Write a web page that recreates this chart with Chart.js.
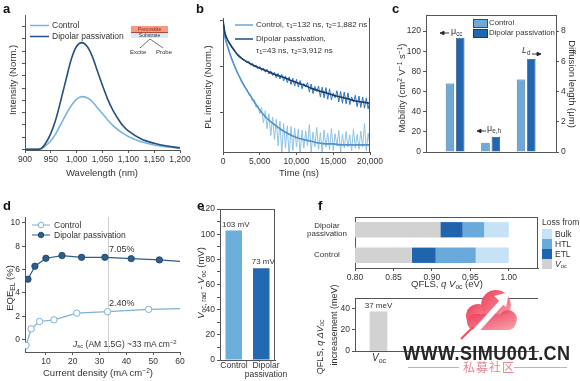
<!DOCTYPE html>
<html>
<head>
<meta charset="utf-8">
<title>Dipolar passivation figure</title>
<script src="https://cdn.jsdelivr.net/npm/chart.js"></script>
<style>
  body { margin:0; width:580px; height:381px; position:relative; overflow:hidden; background:#fff;
         font-family: Arial, "Liberation Sans", Helvetica, sans-serif; color:#333; }
  canvas { position:absolute; }
  .t { position:absolute; line-height:1; white-space:nowrap; font-size:8.5px; }
  .lbl { position:absolute; font-weight:bold; font-size:13px; color:#111; line-height:1; }
  .yt { position:absolute; line-height:1; white-space:nowrap; font-size:9.5px; transform:translate(-50%,-50%) rotate(-90deg); }
  .yt2 { position:absolute; line-height:1; white-space:nowrap; font-size:9.5px; transform:translate(-50%,-50%) rotate(90deg); }
  .xt { position:absolute; line-height:1; white-space:nowrap; font-size:9.5px; transform:translateX(-50%); }
  .box { position:absolute; }
  sub { font-size:70%; vertical-align:-0.25em; line-height:0; }
  sup { font-size:70%; vertical-align:0.45em; line-height:0; }
  #overlay { position:absolute; left:0; top:0; }
  #wm { position:absolute; left:403px; top:342px; font-weight:bold; font-size:21px; color:#262626; line-height:1;
        transform-origin:left top; transform:scaleX(0.86); letter-spacing:0.5px; white-space:nowrap; }
  #wmcn { position:absolute; left:463px; top:361px; font-size:12px; color:#e48797; line-height:1;
          font-family:"Noto Sans CJK SC", sans-serif; letter-spacing:1px; }
</style>
</head>
<body>
<canvas id="chartA" width="196" height="176" style="left:0;top:0"></canvas>
<canvas id="chartB" width="200" height="176" style="left:195px;top:0"></canvas>
<canvas id="chartC" width="190" height="176" style="left:390px;top:0"></canvas>
<canvas id="chartD" width="196" height="191" style="left:0;top:190px"></canvas>
<canvas id="chartE" width="100" height="191" style="left:195px;top:190px"></canvas>
<canvas id="chartF1" width="250" height="87" style="left:300px;top:205px"></canvas>
<canvas id="chartF2" width="240" height="91" style="left:310px;top:290px"></canvas>

<!-- panel a -->
<div class="lbl" style="left:3px;top:2px">a</div>
<div class="t" style="left:52px;top:21px">Control</div>
<div class="t" style="left:52px;top:32px">Dipolar passivation</div>
<div class="box" style="left:131px;top:26px;width:37px;height:6px;background:#f59a80;border-bottom:1px solid #b04838"></div>
<div class="t" style="left:131px;top:27px;width:37px;text-align:center;font-size:5px;color:#8b2a18">Perovskite</div>
<div class="box" style="left:131px;top:33px;width:37px;height:5px;background:#dce9f5"></div>
<div class="t" style="left:131px;top:33px;width:37px;text-align:center;font-size:5px;color:#334">Substrate</div>
<div class="t" style="left:130px;top:49px;font-size:6px">Excite</div>
<div class="t" style="left:156px;top:49px;font-size:6px">Probe</div>
<div class="xt" style="left:102px;top:168px">Wavelength (nm)</div>
<div class="yt" style="left:13px;top:80px">Intensity (Norm.)</div>

<!-- panel b -->
<div class="lbl" style="left:196px;top:2px">b</div>
<div class="t" style="left:256px;top:21px;font-size:8px">Control, τ<sub>1</sub>=132 ns, τ<sub>2</sub>=1,882 ns</div>
<div class="t" style="left:256px;top:35px;font-size:8px">Dipolar passivation,</div>
<div class="t" style="left:256px;top:47px;font-size:8px">τ<sub>1</sub>=43 ns, τ<sub>2</sub>=3,912 ns</div>
<div class="xt" style="left:299px;top:168px">Time (ns)</div>
<div class="yt" style="left:208px;top:87px">PL intensity (Norm.)</div>

<!-- panel c -->
<div class="lbl" style="left:392px;top:2px">c</div>
<div class="box" style="left:473px;top:19px;width:13px;height:7px;background:#6ea9d8;border:0.5px solid #2b4f78"></div>
<div class="box" style="left:473px;top:29px;width:13px;height:7px;background:#2166b0;border:0.5px solid #1b3d66"></div>
<div class="t" style="left:489px;top:19px;font-size:7.8px">Control</div>
<div class="t" style="left:489px;top:29px;font-size:7.8px">Dipolar passivation</div>
<div class="t" style="left:451px;top:27px;font-size:9px">μ<sub>cc</sub></div>
<div class="t" style="left:487px;top:124px;font-size:9px">μ<sub>e,h</sub></div>
<div class="t" style="left:522px;top:46px;font-size:9px"><i>L</i><sub>d</sub></div>
<div class="yt" style="left:402px;top:88px">Mobility (cm<sup>2</sup> V<sup>−1</sup> s<sup>−1</sup>)</div>
<div class="yt2" style="left:572px;top:84px">Diffusion length (μm)</div>

<!-- panel d -->
<div class="lbl" style="left:3px;top:199px">d</div>
<div class="t" style="left:54px;top:221px">Control</div>
<div class="t" style="left:54px;top:231px">Dipolar passivation</div>
<div class="t" style="left:109px;top:245px;font-size:9px">7.05%</div>
<div class="t" style="left:109px;top:299px;font-size:9px">2.40%</div>
<div class="t" style="left:73px;top:340px;font-size:8.5px"><i>J</i><sub>sc</sub> (AM 1.5G) ~33 mA cm<sup>−2</sup></div>
<div class="xt" style="left:98px;top:368px">Current density (mA cm<sup>−2</sup>)</div>
<div class="yt" style="left:10px;top:288px">EQE<sub>EL</sub> (%)</div>

<!-- panel e -->
<div class="lbl" style="left:197px;top:199px">e</div>
<div class="yt" style="left:201px;top:283px"><i>V</i><sub>oc, rad</sub> - <i>V</i><sub>oc</sub> (mV)</div>
<div class="xt" style="left:234px;top:361px;font-size:8.5px">Control</div>
<div class="xt" style="left:266px;top:361px;font-size:8.5px">Dipolar</div>
<div class="xt" style="left:266px;top:370px;font-size:8.5px">passivation</div>

<!-- panel f -->
<div class="lbl" style="left:318px;top:199px">f</div>
<div class="t" style="left:542px;top:218px">Loss from</div>
<div class="box" style="left:542px;top:229px;width:10px;height:10px;background:#c6e2f7"></div>
<div class="box" style="left:542px;top:239px;width:10px;height:10px;background:#6aaadb"></div>
<div class="box" style="left:542px;top:249px;width:10px;height:10px;background:#1f64ad"></div>
<div class="box" style="left:542px;top:259px;width:10px;height:10px;background:#d2d2d2"></div>
<div class="t" style="left:555px;top:230px">Bulk</div>
<div class="t" style="left:555px;top:240px">HTL</div>
<div class="t" style="left:555px;top:250px">ETL</div>
<div class="t" style="left:555px;top:260px"><i>V</i><sub>oc</sub></div>
<div class="xt" style="left:447px;top:279px">QFLS, <i>q V</i><sub>oc</sub> (eV)</div>
<div class="xt" style="left:379px;top:353px;font-size:10px"><i>V</i><sub>oc</sub></div>
<div class="yt" style="left:320px;top:347px;font-size:9px">QFLS, <i>q ΔV</i><sub>oc</sub></div>
<div class="yt" style="left:334px;top:325px;font-size:9px">increasement (meV)</div>

<svg id="overlay" width="580" height="381">
  <line x1="30" y1="25.5" x2="49" y2="25.5" stroke="#78b4de" stroke-width="1.5"/>
  <line x1="30" y1="36.5" x2="49" y2="36.5" stroke="#24507e" stroke-width="1.5"/>
  <line x1="150" y1="39" x2="140" y2="48" stroke="#333" stroke-width="0.7"/>
  <line x1="150" y1="39" x2="163" y2="48" stroke="#333" stroke-width="0.7"/>
  <line x1="235" y1="25" x2="253" y2="25" stroke="#6aa9d8" stroke-width="1.5"/>
  <line x1="235" y1="39" x2="253" y2="39" stroke="#1e4d80" stroke-width="1.5"/>
  <line x1="32" y1="225" x2="50" y2="225" stroke="#7fb0d2" stroke-width="1"/>
  <circle cx="41" cy="225" r="2.8" fill="#fff" stroke="#7fb0d2" stroke-width="1"/>
  <line x1="32" y1="235" x2="50" y2="235" stroke="#2e5e8c" stroke-width="1"/>
  <circle cx="41" cy="235" r="2.8" fill="#2e5e8c" stroke="#1d4266" stroke-width="0.8"/>
  <g stroke="#222" stroke-width="0.9" fill="#222">
    <line x1="449" y1="33" x2="443" y2="33"/><polygon points="440,33 444,31.3 444,34.7"/>
    <line x1="486" y1="131" x2="480" y2="131"/><polygon points="477,131 481,129.3 481,132.7"/>
    <line x1="532" y1="54" x2="538" y2="54"/><polygon points="541,54 537,52.3 537,55.7"/>
  </g>
  <defs>
    <linearGradient id="cg" x1="0" y1="0" x2="1" y2="1">
      <stop offset="0" stop-color="#ee3f58"/><stop offset="1" stop-color="#f7a2ad"/>
    </linearGradient>
  </defs>
  <g fill="url(#cg)">
    <circle cx="478" cy="316" r="12"/>
    <circle cx="496" cy="305" r="15"/>
    <circle cx="508" cy="319" r="9"/>
    <rect x="467" y="314" width="49" height="16" rx="8"/>
  </g>
  <polygon points="470,333 500,300 504,304 474,337" fill="#fff"/>
  <polygon points="494,296 509,292 506,307" fill="#fff"/>
  <line x1="461" y1="339" x2="473" y2="327" stroke="#ee4a60" stroke-width="2"/>
  <line x1="408" y1="367.5" x2="459" y2="367.5" stroke="#e8a0aa" stroke-width="1"/>
  <line x1="514" y1="367.5" x2="567" y2="367.5" stroke="#e8a0aa" stroke-width="1"/>
</svg>
<div id="wm">WWW.SIMU001.CN</div>
<div id="wmcn">私募社区</div>

<script>
// ---------- data ----------
// a: steady-state PL spectra
const wavelength = [900, 920, 930, 940, 950, 960, 970, 980, 990, 1000, 1010, 1020, 1030, 1040, 1050, 1060, 1070, 1080, 1090, 1100, 1125, 1150, 1175, 1200];
const specControl = [0, 0, 0.003, 0.03, 0.07, 0.13, 0.21, 0.29, 0.36, 0.41, 0.43, 0.42, 0.39, 0.34, 0.29, 0.24, 0.195, 0.16, 0.13, 0.105, 0.062, 0.036, 0.02, 0.012];
const specDipolar = [0, 0, 0.005, 0.05, 0.13, 0.25, 0.41, 0.58, 0.74, 0.84, 0.87, 0.84, 0.76, 0.64, 0.52, 0.41, 0.32, 0.25, 0.19, 0.15, 0.085, 0.05, 0.027, 0.012];
const waveTicks = [900, 950, 1000, 1050, 1100, 1150, 1200];
const intensityTicks = [0, 0.1, 0.2, 0.3, 0.4, 0.5, 0.6, 0.7, 0.8, 0.9, 1.0];

// b: TRPL decays (raw) and bi-exponential fits
const decayTime = [0,250,500,750,1000,1250,1500,1750,2000,2250,2500,2750,3000,3250,3500,3750,4000,4250,4500,4750,5000,5250,5500,5750,6000,6250,6500,6750,7000,7250,7500,7750,8000,8250,8500,8750,9000,9250,9500,9750,10000,10250,10500,10750,11000,11250,11500,11750,12000,12250,12500,12750,13000,13250,13500,13750,14000,14250,14500,14750,15000,15250,15500,15750,16000,16250,16500,16750,17000,17250,17500,17750,18000,18250,18500,18750,19000,19250,19500,19750,20000];
const decayControl = [1.0,0.46,0.315,0.245,0.176,0.145,0.106,0.092,0.069,0.063,0.047,0.044,0.034,0.033,0.025,0.025,0.018,0.019,0.013,0.0145,0.0095,0.013,0.0060,0.011,0.0045,0.0095,0.0032,0.0080,0.0026,0.0072,0.0019,0.0065,0.0013,0.0058,0.0017,0.0052,0.0011,0.0050,0.0015,0.0046,0.0018,0.0044,0.0012,0.0042,0.0017,0.0040,0.0019,0.0055,0.0014,0.0038,0.0018,0.0048,0.0016,0.0037,0.0013,0.0042,0.0018,0.0036,0.0016,0.0045,0.0015,0.0035,0.0019,0.0041,0.0014,0.0034,0.0017,0.0039,0.0018,0.0033,0.0015,0.0044,0.0017,0.0034,0.0016,0.0040,0.0018,0.0058,0.0015,0.0036,0.0019];
const decayDipolar = [1.0,0.56,0.43,0.345,0.305,0.255,0.235,0.195,0.185,0.162,0.156,0.139,0.138,0.121,0.130,0.108,0.117,0.098,0.108,0.090,0.100,0.082,0.093,0.076,0.088,0.069,0.081,0.064,0.076,0.057,0.071,0.054,0.068,0.049,0.063,0.045,0.060,0.041,0.056,0.038,0.053,0.036,0.050,0.033,0.043,0.036,0.045,0.028,0.042,0.026,0.037,0.029,0.038,0.022,0.036,0.021,0.035,0.0195,0.033,0.019,0.027,0.021,0.030,0.017,0.029,0.016,0.028,0.0155,0.027,0.015,0.022,0.017,0.024,0.0135,0.023,0.013,0.022,0.0125,0.021,0.012,0.020];
const fitTime = [0,250,500,1000,1500,2000,2500,3000,4000,5000,6000,7000,8000,9000,10000,11000,12000,13000,14000,15000,16000,17000,18000,19000,20000];
const fitControl = [1.0,0.45,0.32,0.18,0.11,0.072,0.05,0.036,0.020,0.0115,0.0075,0.0055,0.0042,0.0034,0.0029,0.0026,0.0024,0.0022,0.0021,0.0021,0.0020,0.0020,0.0020,0.0020,0.0020];
const fitDipolar = [1.0,0.55,0.42,0.30,0.23,0.18,0.153,0.135,0.11,0.093,0.080,0.068,0.060,0.052,0.045,0.040,0.034,0.030,0.027,0.024,0.022,0.020,0.018,0.017,0.016];
const timeTicks = [0, 5000, 10000, 15000, 20000];
const decadeTicks = [0.01, 0.1, 1];

// c: mobilities (cm2/Vs) and diffusion length (um)
const mobilityControl = [68, 9.3];      // mu_cc, mu_e,h
const mobilityDipolar = [113.5, 15];
const diffusionControl = [4.8];          // L_d
const diffusionDipolar = [6.15];
const mobilityTicks = [0, 20, 40, 60, 80, 100, 120];
const diffusionTicks = [0, 2, 4, 6, 8];

// d: EQE_EL vs current density
const ctrlJ = [2.6, 4.5, 7.6, 13, 21.5, 33, 48.3, 60];
const ctrlEqe = [-0.48, 0.93, 1.56, 1.7, 2.27, 2.4, 2.6, 2.66];
const dipJ = [3.3, 5.9, 10, 16, 23.3, 32, 41.8, 52.3, 60];
const dipEqe = [5.18, 6.29, 6.97, 7.2, 7.05, 7.05, 6.94, 6.83, 6.71];
const jscValue = 33;
const currentTicks = [10, 20, 30, 40, 50, 60];
const eqeTicks = [0, 2, 4, 6, 8, 10];

// e: non-radiative Voc loss
const sampleLabels = ['Control', 'Dipolar passivation'];
const vocDeficit = [103, 73];
const deficitTicks = [0, 10, 20, 30, 40, 50, 60, 70, 80, 90, 100, 110, 120];

// f: QFLS / Voc loss breakdown
const qflsLabels = [['Dipolar', 'passivation'], 'Control'];
const vocLevel = [0.911, 0.874];
const etlLoss = [0.029, 0.031];
const htlLoss = [0.028, 0.052];
const bulkLoss = [0.032, 0.043];
const qflsTicks = [0.80, 0.85, 0.90, 0.95, 1.00];
const qflsGain = [37];
const gainTicks = [0, 20, 40];

// ---------- styling ----------
const AXIS = '#555';
const TEXT = '#333';
Chart.defaults.font.family = 'Arial, "Liberation Sans", Helvetica, sans-serif';
Chart.defaults.font.size = 8.5;
Chart.defaults.color = TEXT;
Chart.defaults.animation = false;
Chart.defaults.responsive = false;
Chart.defaults.maintainAspectRatio = false;
Chart.defaults.plugins.legend.display = false;
Chart.defaults.plugins.tooltip.enabled = false;
Chart.defaults.elements.point.radius = 0;

function ticksFrom(list) { return scale => { scale.ticks = list.map(v => ({ value: v })); }; }
function widthOf(w) { return scale => { scale.width = w; }; }
function heightOf(h) { return scale => { scale.height = h; }; }
function axis(o) {
    const a = {
        offset: false,
        border: { color: AXIS, width: 1 },
        grid: { drawOnChartArea: false, drawTicks: true, tickLength: 3, color: AXIS },
        ticks: { color: TEXT, padding: 2, font: { size: 8.5 }, maxRotation: 0, minRotation: 0, autoSkip: false }
    };
    const t = Object.assign(a.ticks, o.ticks || {});
    return Object.assign(a, o, { ticks: t });
}
function pts(xs, ys) { return xs.map((x, i) => ({ x: x, y: ys[i] })); }

// box lines on top / right of plot area
const framePlugin = {
    id: 'frame',
    afterDraw(chart, args, opts) {
        if (!opts || !opts.sides) return;
        const a = chart.chartArea, ctx = chart.ctx;
        ctx.save();
        ctx.strokeStyle = AXIS;
        ctx.lineWidth = 1;
        ctx.beginPath();
        if (opts.sides.includes('top')) { ctx.moveTo(a.left, a.top + 0.5); ctx.lineTo(a.right, a.top + 0.5); }
        if (opts.sides.includes('right')) { ctx.moveTo(a.right - 0.5, a.top); ctx.lineTo(a.right - 0.5, a.bottom); }
        ctx.stroke();
        ctx.restore();
    }
};
// value text over bars
const valueLabels = {
    id: 'valueLabels',
    afterDatasetsDraw(chart, args, opts) {
        if (!opts || !opts.unit) return;
        const ctx = chart.ctx;
        ctx.save();
        ctx.font = '8px Arial, "Liberation Sans", sans-serif';
        ctx.fillStyle = TEXT;
        ctx.textAlign = 'center';
        ctx.textBaseline = 'bottom';
        chart.getDatasetMeta(0).data.forEach((bar, i) => {
            const v = chart.data.datasets[0].data[i];
            ctx.fillText((typeof v === 'object' ? v.y : v) + ' ' + opts.unit, bar.x + (opts.dx || 0), bar.y - 2);
        });
        ctx.restore();
    }
};
// vertical marker at Jsc
const jscLine = {
    id: 'jscLine',
    beforeDatasetsDraw(chart, args, opts) {
        if (!opts || opts.value == null) return;
        const a = chart.chartArea, ctx = chart.ctx;
        const x = Math.round(chart.scales.x.getPixelForValue(opts.value)) + 0.5;
        ctx.save();
        ctx.strokeStyle = '#d0d0d0';
        ctx.lineWidth = 1;
        ctx.beginPath(); ctx.moveTo(x, a.top); ctx.lineTo(x, a.bottom); ctx.stroke();
        ctx.restore();
    }
};
Chart.register(framePlugin, valueLabels, jscLine);

// ---------- a ----------
new Chart(document.getElementById('chartA'), {
    type: 'line',
    data: { datasets: [
        { data: pts(wavelength, specDipolar), borderColor: '#24507e', borderWidth: 1.6, cubicInterpolationMode: 'monotone' },
        { data: pts(wavelength, specControl), borderColor: '#78b4de', borderWidth: 1.6, cubicInterpolationMode: 'monotone' }
    ] },
    options: {
        layout: { padding: { top: 15, right: 16, left: 0, bottom: 0 } },
        scales: {
            x: axis({ type: 'linear', min: 900, max: 1200, afterBuildTicks: ticksFrom(waveTicks), afterFit: heightOf(26) }),
            y: axis({ min: -0.005, max: 1.095, afterBuildTicks: ticksFrom(intensityTicks), afterFit: widthOf(25), ticks: { display: false } })
        }
    }
});

// ---------- b ----------
new Chart(document.getElementById('chartB'), {
    type: 'line',
    data: { datasets: [
        { data: pts(fitTime, fitDipolar), borderColor: '#173a66', borderWidth: 1.6, cubicInterpolationMode: 'monotone' },
        { data: pts(decayTime, decayDipolar), borderColor: '#2f74bf', borderWidth: 1 },
        { data: pts(fitTime, fitControl), borderColor: '#4f92cc', borderWidth: 1.6, cubicInterpolationMode: 'monotone' },
        { data: pts(decayTime, decayControl), borderColor: '#8ec2e6', borderWidth: 1 }
    ] },
    options: {
        layout: { padding: { top: 18, right: 25, left: 0, bottom: 0 } },
        scales: {
            x: axis({ type: 'linear', min: 0, max: 20000, afterBuildTicks: ticksFrom(timeTicks), afterFit: heightOf(24) }),
            y: axis({ type: 'logarithmic', min: 0.0014, max: 1.14, afterBuildTicks: ticksFrom(decadeTicks), afterFit: widthOf(28), ticks: { display: false } })
        },
        plugins: { frame: { sides: ['right'] } }
    }
});

// ---------- c ----------
const mobilityMax = 136;
const diffusionMax = mobilityMax * 8 / 120;
const groupPos = [1, 2, 3];
new Chart(document.getElementById('chartC'), {
    type: 'bar',
    data: { datasets: [
        { data: pts(groupPos.slice(0, 2), mobilityControl), yAxisID: 'y', stack: 'ctrl', backgroundColor: '#6ea9d8' },
        { data: pts(groupPos.slice(0, 2), mobilityDipolar), yAxisID: 'y', stack: 'dip', backgroundColor: '#2166b0' },
        { data: pts(groupPos.slice(2), diffusionControl), yAxisID: 'y2', stack: 'ctrl', backgroundColor: '#6ea9d8' },
        { data: pts(groupPos.slice(2), diffusionDipolar), yAxisID: 'y2', stack: 'dip', backgroundColor: '#2166b0' }
    ] },
    options: {
        datasets: { bar: { categoryPercentage: 0.58, barPercentage: 0.82, borderWidth: 0.8, borderColor: '#2b4f78' } },
        layout: { padding: { top: 15, right: 0, left: 0, bottom: 0 } },
        scales: {
            x: axis({ type: 'linear', min: 0.18, max: 3.84, grid: { display: false }, ticks: { display: false }, afterBuildTicks: ticksFrom(groupPos), afterFit: heightOf(24) }),
            y: axis({ position: 'left', min: 0, max: mobilityMax, afterBuildTicks: ticksFrom(mobilityTicks), afterFit: widthOf(36) }),
            y2: axis({ position: 'right', min: 0, max: diffusionMax, afterBuildTicks: ticksFrom(diffusionTicks), afterFit: widthOf(24) })
        },
        plugins: { frame: { sides: ['top'] } }
    }
});

// ---------- d ----------
const lastOf = arr => ctx => (ctx.dataIndex < arr.length - 1 ? 3.2 : 0);
new Chart(document.getElementById('chartD'), {
    type: 'line',
    data: { datasets: [
        { data: pts(dipJ, dipEqe), borderColor: '#2e5e8c', borderWidth: 1.2, pointRadius: lastOf(dipJ),
          pointBackgroundColor: '#2e5e8c', pointBorderColor: '#1d4266', pointBorderWidth: 0.8 },
        { data: pts(ctrlJ, ctrlEqe), borderColor: '#7fb0d2', borderWidth: 1.2, pointRadius: lastOf(ctrlJ),
          pointBackgroundColor: '#fff', pointBorderColor: '#7fb0d2', pointBorderWidth: 1 }
    ] },
    options: {
        layout: { padding: { top: 27, right: 16, left: 0, bottom: 0 } },
        scales: {
            x: axis({ type: 'linear', min: 2.2, max: 60, afterBuildTicks: ticksFrom(currentTicks), afterFit: heightOf(29) }),
            y: axis({ min: -1.05, max: 10.5, afterBuildTicks: ticksFrom(eqeTicks), afterFit: widthOf(25) })
        },
        plugins: { jscLine: { value: jscValue } }
    }
});

// ---------- e ----------
new Chart(document.getElementById('chartE'), {
    type: 'bar',
    data: { labels: sampleLabels, datasets: [
        { data: vocDeficit, backgroundColor: ['#6baed9', '#2269b1'], barPercentage: 0.6, categoryPercentage: 1 }
    ] },
    options: {
        layout: { padding: { top: 19, right: 20, left: 0, bottom: 0 } },
        scales: {
            x: axis({ offset: true, grid: { display: false }, ticks: { display: false }, afterFit: heightOf(21) }),
            y: axis({ min: 0, max: 120, afterBuildTicks: ticksFrom(deficitTicks), afterFit: widthOf(25),
                      ticks: { callback: v => (v % 20 === 0 ? v : '') } })
        },
        plugins: { frame: { sides: ['top', 'right'] }, valueLabels: { unit: 'mV', dx: 2 } }
    }
});

// ---------- f (top) ----------
new Chart(document.getElementById('chartF1'), {
    type: 'bar',
    data: { labels: qflsLabels, datasets: [
        { label: 'Voc', data: vocLevel, backgroundColor: '#d2d2d2' },
        { label: 'ETL', data: etlLoss, backgroundColor: '#1f64ad' },
        { label: 'HTL', data: htlLoss, backgroundColor: '#6aaadb' },
        { label: 'Bulk', data: bulkLoss, backgroundColor: '#c6e2f7' }
    ] },
    options: {
        indexAxis: 'y',
        datasets: { bar: { barPercentage: 0.6, categoryPercentage: 1 } },
        layout: { padding: { top: 12, right: 12, left: 0, bottom: 0 } },
        scales: {
            x: axis({ stacked: true, min: 0.8, max: 1.038, afterBuildTicks: ticksFrom(qflsTicks),
                      ticks: { callback: v => v.toFixed(2) }, afterFit: heightOf(24) }),
            y: axis({ offset: true, stacked: true, grid: { display: false },
                      ticks: { crossAlign: 'center', padding: 0, font: { size: 8, lineHeight: 1.1 } }, afterFit: widthOf(55) })
        },
        plugins: { frame: { sides: ['top', 'right'] } }
    }
});

// ---------- f (bottom) ----------
new Chart(document.getElementById('chartF2'), {
    type: 'bar',
    data: { datasets: [
        { data: pts([1], qflsGain), backgroundColor: '#d2d2d2', barThickness: 17 }
    ] },
    options: {
        layout: { padding: { top: 8, right: 12, left: 0, bottom: 0 } },
        scales: {
            x: axis({ type: 'linear', min: 0.5, max: 4.4, grid: { display: false }, ticks: { display: false },
                      afterBuildTicks: ticksFrom([1]), afterFit: heightOf(30) }),
            y: axis({ min: 0, max: 50, afterBuildTicks: ticksFrom(gainTicks), afterFit: widthOf(45) })
        },
        plugins: { frame: { sides: ['top'] }, valueLabels: { unit: 'meV' } }
    }
});
</script>
</body>
</html>
